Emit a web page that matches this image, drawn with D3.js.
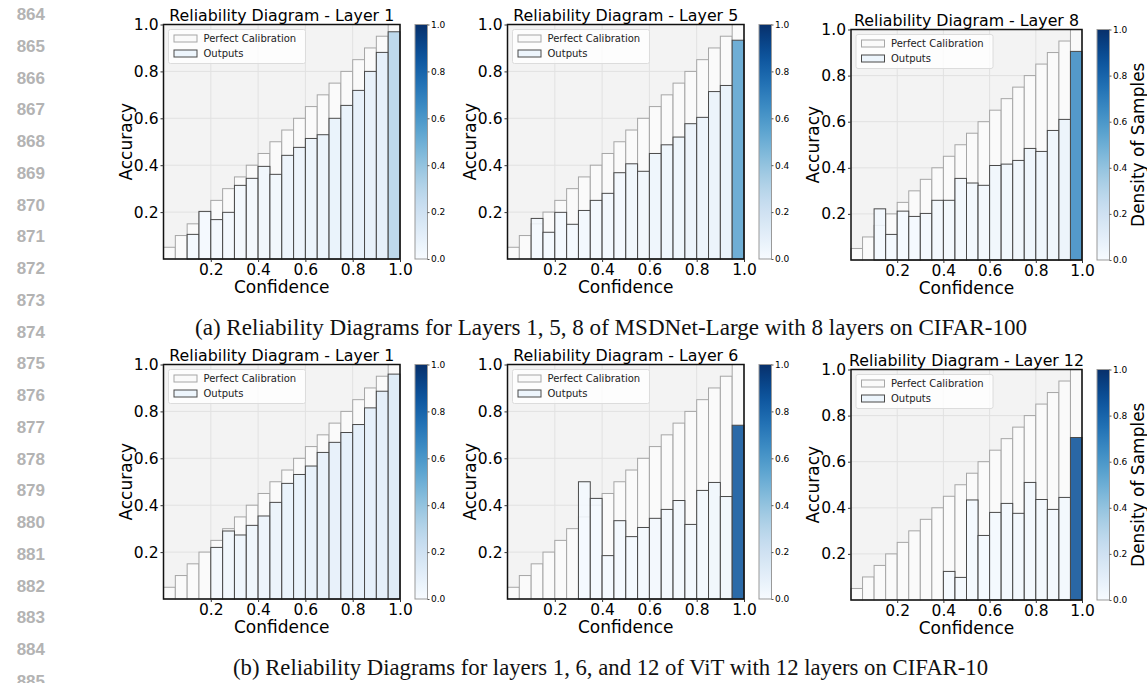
<!DOCTYPE html>
<html>
<head>
<meta charset="utf-8">
<script src="https://cdn.jsdelivr.net/npm/d3@7"></script>
<style>
  body { margin: 0; background: #fff; }
  svg { display: block; }
  .tick text { font-family: "DejaVu Sans", sans-serif; fill: #000; }
</style>
</head>
<body>
<script>
// --- data ---------------------------------------------------------------
// 20 confidence bins of width 0.05
var binStarts = [0.00, 0.05, 0.10, 0.15, 0.20, 0.25, 0.30, 0.35, 0.40, 0.45,
                 0.50, 0.55, 0.60, 0.65, 0.70, 0.75, 0.80, 0.85, 0.90, 0.95];
var perfect   = [0.05, 0.10, 0.15, 0.20, 0.25, 0.30, 0.35, 0.40, 0.45, 0.50,
                 0.55, 0.60, 0.65, 0.70, 0.75, 0.80, 0.85, 0.90, 0.95, 1.00];

// MSDNet-Large, CIFAR-100 (null = empty bin)
var msdL1Acc  = [null, null, 0.105, 0.203, 0.168, 0.199, 0.314, 0.344, 0.395, 0.361,
                 0.442, 0.476, 0.514, 0.530, 0.600, 0.655, 0.719, 0.800, 0.881, 0.969];
var msdL1Dens = [null, null, 0.02, 0.02, 0.03, 0.03, 0.03, 0.03, 0.04, 0.04,
                 0.06, 0.06, 0.07, 0.07, 0.08, 0.08, 0.09, 0.09, 0.10, 0.30];
var msdL5Acc  = [null, null, 0.173, 0.114, 0.199, 0.148, 0.207, 0.250, 0.280, 0.368,
                 0.406, 0.374, 0.450, 0.487, 0.520, 0.577, 0.604, 0.714, 0.740, 0.933];
var msdL5Dens = [null, null, 0.02, 0.02, 0.02, 0.02, 0.03, 0.03, 0.03, 0.03,
                 0.04, 0.04, 0.05, 0.05, 0.05, 0.06, 0.06, 0.07, 0.08, 0.55];
var msdL8Acc  = [null, null, 0.222, 0.111, 0.212, 0.189, 0.202, 0.259, 0.259, 0.354,
                 0.334, 0.324, 0.410, 0.416, 0.432, 0.484, 0.471, 0.562, 0.610, 0.905];
var msdL8Dens = [null, null, 0.02, 0.02, 0.02, 0.02, 0.03, 0.03, 0.03, 0.03,
                 0.03, 0.03, 0.04, 0.04, 0.04, 0.05, 0.05, 0.05, 0.06, 0.65];

// ViT, CIFAR-10
var vitL1Acc  = [null, null, null, null, 0.220, 0.290, 0.273, 0.314, 0.354, 0.412,
                 0.493, 0.531, 0.567, 0.625, 0.668, 0.710, 0.744, 0.815, 0.886, 0.959];
var vitL1Dens = [null, null, null, null, 0.03, 0.04, 0.05, 0.05, 0.06, 0.07,
                 0.08, 0.08, 0.09, 0.09, 0.09, 0.10, 0.10, 0.10, 0.11, 0.14];
var vitL6Acc  = [null, null, null, null, null, null, 0.500, 0.429, 0.185, 0.334,
                 0.266, 0.305, 0.344, 0.382, 0.420, 0.318, 0.463, 0.497, 0.437, 0.741];
var vitL6Dens = [null, null, null, null, null, null, 0.02, 0.02, 0.02, 0.02,
                 0.02, 0.03, 0.03, 0.03, 0.03, 0.03, 0.03, 0.04, 0.04, 0.86];
var vitL12Acc  = [null, null, null, null, null, null, null, null, 0.124, 0.098,
                  0.434, 0.280, 0.380, 0.419, 0.376, 0.510, 0.436, 0.393, 0.445, 0.705];
var vitL12Dens = [null, null, null, null, null, null, null, null, 0.02, 0.02,
                  0.02, 0.02, 0.02, 0.03, 0.03, 0.03, 0.03, 0.03, 0.03, 0.87];

var axisTicks = [0.2, 0.4, 0.6, 0.8, 1.0];
var barTicks  = [0.0, 0.2, 0.4, 0.6, 0.8, 1.0];
var legendLabels = ["Perfect Calibration", "Outputs"];
var lineNumbers = [864, 865, 866, 867, 868, 869, 870, 871, 872, 873, 874,
                   875, 876, 877, 878, 879, 880, 881, 882, 883, 884, 885];
var captions = [
    "(a) Reliability Diagrams for Layers 1, 5, 8 of MSDNet-Large with 8 layers on CIFAR-100",
    "(b) Reliability Diagrams for layers 1, 6, and 12 of ViT with 12 layers on CIFAR-10"
];

// --- layout ---------------------------------------------------------------
var W = 1147, H = 683;
var panels = [
    {title: "Reliability Diagram - Layer 1", acc: msdL1Acc, dens: msdL1Dens,
     left: 163.5, right: 400, top: 24.5, bottom: 259, cbX: 415, cbLabel: false},
    {title: "Reliability Diagram - Layer 5", acc: msdL5Acc, dens: msdL5Dens,
     left: 507.5, right: 744, top: 24.5, bottom: 259, cbX: 759, cbLabel: false},
    {title: "Reliability Diagram - Layer 8", acc: msdL8Acc, dens: msdL8Dens,
     left: 851, right: 1082, top: 29.5, bottom: 260, cbX: 1097, cbLabel: true},
    {title: "Reliability Diagram - Layer 1", acc: vitL1Acc, dens: vitL1Dens,
     left: 163.5, right: 400, top: 364.5, bottom: 599, cbX: 415, cbLabel: false},
    {title: "Reliability Diagram - Layer 6", acc: vitL6Acc, dens: vitL6Dens,
     left: 507.5, right: 744, top: 364.5, bottom: 599, cbX: 759, cbLabel: false},
    {title: "Reliability Diagram - Layer 12", acc: vitL12Acc, dens: vitL12Dens,
     left: 851, right: 1082, top: 369.5, bottom: 600, cbX: 1097, cbLabel: true}
];

var svg = d3.select("body").append("svg")
    .attr("width", W)
    .attr("height", H);

// gradient for the colorbars
var color = d3.scaleSequential(d3.interpolateBlues).domain([0, 1]);
var grad = svg.append("defs").append("linearGradient")
    .attr("id", "blues")
    .attr("x1", 0).attr("y1", 1).attr("x2", 0).attr("y2", 0);
grad.selectAll("stop")
    .data(d3.range(0, 1.0001, 0.05))
    .enter()
    .append("stop")
    .attr("offset", function(d){ return d; })
    .attr("stop-color", function(d){ return color(d); });

// line numbers in the margin
svg.selectAll("text.lineno")
    .data(lineNumbers)
    .enter()
    .append("text")
    .attr("class", "lineno")
    .attr("x", 45)
    .attr("y", function(d, i){ return 20 + i * 31.75; })
    .attr("text-anchor", "end")
    .style("font-family", "'Liberation Sans', Arial, sans-serif")
    .style("font-weight", "bold")
    .style("font-size", "17px")
    .style("fill", "#b3b3b3")
    .text(function(d){ return d; });

panels.forEach(function(p){
    var x = d3.scaleLinear().domain([0, 1]).range([p.left, p.right]);
    var y = d3.scaleLinear().domain([0, 1]).range([p.bottom, p.top]);
    var g = svg.append("g");

    // background
    g.append("rect")
        .attr("x", p.left).attr("y", p.top)
        .attr("width", p.right - p.left).attr("height", p.bottom - p.top)
        .style("fill", "#f3f3f3");

    // grid
    g.selectAll("line.gx")
        .data(axisTicks.slice(0, 4))
        .enter()
        .append("line")
        .attr("x1", function(d){ return x(d); })
        .attr("x2", function(d){ return x(d); })
        .attr("y1", p.top).attr("y2", p.bottom)
        .style("stroke", "#e1e1e1").style("stroke-width", 1);
    g.selectAll("line.gy")
        .data(axisTicks.slice(0, 4))
        .enter()
        .append("line")
        .attr("y1", function(d){ return y(d); })
        .attr("y2", function(d){ return y(d); })
        .attr("x1", p.left).attr("x2", p.right)
        .style("stroke", "#e1e1e1").style("stroke-width", 1);

    // perfect calibration bars
    g.selectAll("rect.perfect")
        .data(perfect)
        .enter()
        .append("rect")
        .attr("x", function(d, i){ return x(binStarts[i]); })
        .attr("y", function(d){ return y(d); })
        .attr("width", function(d, i){ return x(binStarts[i] + 0.05) - x(binStarts[i]); })
        .attr("height", function(d){ return y(0) - y(d); })
        .style("fill", "#fafafa")
        .style("stroke", "#a6a6a6")
        .style("stroke-width", 1);

    // outputs
    var outs = p.acc.map(function(a, i){ return {a: a, d: p.dens[i], s: binStarts[i]}; })
        .filter(function(o){ return o.a !== null; });
    g.selectAll("rect.out")
        .data(outs)
        .enter()
        .append("rect")
        .attr("x", function(o){ return x(o.s); })
        .attr("y", function(o){ return y(o.a); })
        .attr("width", function(o){ return x(o.s + 0.05) - x(o.s); })
        .attr("height", function(o){ return y(0) - y(o.a); })
        .style("fill", function(o){ return color(o.d); })
        .style("fill-opacity", 0.88)
        .style("stroke", "#4a4a4a")
        .style("stroke-width", 1);

    // frame
    g.append("rect")
        .attr("x", p.left).attr("y", p.top)
        .attr("width", p.right - p.left).attr("height", p.bottom - p.top)
        .style("fill", "none")
        .style("stroke", "#111")
        .style("stroke-width", 1.5);

    // axes
    var ax = g.append("g")
        .attr("transform", "translate(0," + p.bottom + ")")
        .call(d3.axisBottom(x).tickValues(axisTicks).tickSize(3).tickPadding(2)
              .tickFormat(d3.format(".1f")));
    var ay = g.append("g")
        .attr("transform", "translate(" + p.left + ",0)")
        .call(d3.axisLeft(y).tickValues(axisTicks).tickSize(3).tickPadding(2)
              .tickFormat(d3.format(".1f")));
    [ax, ay].forEach(function(a){
        a.select(".domain").remove();
        a.selectAll(".tick line").style("stroke", "#333");
        a.selectAll(".tick text").style("font-size", "15.5px");
    });

    // title and axis labels
    g.append("text")
        .attr("x", (p.left + p.right) / 2)
        .attr("y", p.top - 4)
        .attr("text-anchor", "middle")
        .style("font-family", "'DejaVu Sans', sans-serif")
        .style("font-size", "15.8px")
        .text(p.title);
    g.append("text")
        .attr("x", (p.left + p.right) / 2)
        .attr("y", p.bottom + 34)
        .attr("text-anchor", "middle")
        .style("font-family", "'DejaVu Sans', sans-serif")
        .style("font-size", "17px")
        .text("Confidence");
    g.append("text")
        .attr("transform", "translate(" + (p.left - 32) + "," + ((p.top + p.bottom) / 2) + ") rotate(-90)")
        .attr("text-anchor", "middle")
        .style("font-family", "'DejaVu Sans', sans-serif")
        .style("font-size", "17px")
        .text("Accuracy");

    // legend
    var lg = g.append("g").attr("transform", "translate(" + (p.left + 5) + "," + (p.top + 5) + ")");
    lg.append("rect")
        .attr("width", 137).attr("height", 34).attr("rx", 2)
        .style("fill", "#fff").style("fill-opacity", 0.8)
        .style("stroke", "#dcdcdc").style("stroke-width", 1);
    lg.selectAll("rect.sw")
        .data(legendLabels)
        .enter()
        .append("rect")
        .attr("x", 5.5)
        .attr("y", function(d, i){ return 5.5 + i * 15; })
        .attr("width", 23).attr("height", 7)
        .style("fill", function(d, i){ return i == 0 ? "#fafafa" : color(0.05); })
        .style("stroke", function(d, i){ return i == 0 ? "#a6a6a6" : "#4a4a4a"; })
        .style("stroke-width", 1);
    lg.selectAll("text")
        .data(legendLabels)
        .enter()
        .append("text")
        .attr("x", 35)
        .attr("y", function(d, i){ return 12.5 + i * 15; })
        .style("font-family", "'DejaVu Sans', sans-serif")
        .style("font-size", "10px")
        .style("fill", "#222")
        .text(function(d){ return d; });

    // colorbar
    var cbW = 12.5;
    var cy = d3.scaleLinear().domain([0, 1]).range([p.bottom, p.top]);
    g.append("rect")
        .attr("x", p.cbX).attr("y", p.top)
        .attr("width", cbW).attr("height", p.bottom - p.top)
        .style("fill", "url(#blues)")
        .style("stroke", "#999")
        .style("stroke-width", 1);
    var cb = g.append("g")
        .attr("transform", "translate(" + (p.cbX + cbW) + ",0)")
        .call(d3.axisRight(cy).tickValues(barTicks).tickSize(2).tickPadding(1.5)
              .tickFormat(d3.format(".1f")));
    cb.select(".domain").remove();
    cb.selectAll(".tick line").style("stroke", "#555");
    cb.selectAll(".tick text").style("font-size", "9px");
    if(p.cbLabel){
        g.append("text")
            .attr("transform", "translate(" + (p.cbX + 47) + "," + ((p.top + p.bottom) / 2) + ") rotate(-90)")
            .attr("text-anchor", "middle")
            .style("font-family", "'DejaVu Sans', sans-serif")
            .style("font-size", "17px")
            .text("Density of Samples");
    }
});

// captions (stretched to the measured width of the reference lines)
var captionWidths = [832, 755];
svg.selectAll("text.caption")
    .data(captions)
    .enter()
    .append("text")
    .attr("class", "caption")
    .attr("x", function(d, i){ return i == 0 ? 611 : 610.5; })
    .attr("y", function(d, i){ return i == 0 ? 335 : 675; })
    .attr("text-anchor", "middle")
    .attr("textLength", function(d, i){ return captionWidths[i]; })
    .attr("lengthAdjust", "spacingAndGlyphs")
    .style("font-family", "'Liberation Serif', 'Times New Roman', serif")
    .style("font-size", "22.5px")
    .style("fill", "#111")
    .text(function(d){ return d; });
</script>
</body>
</html>
